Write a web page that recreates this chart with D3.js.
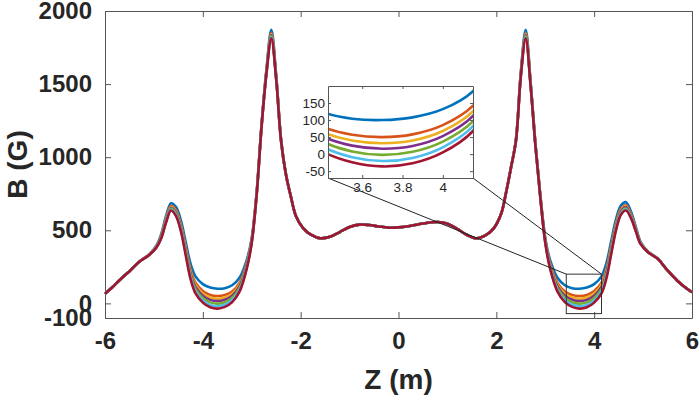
<!DOCTYPE html>
<html>
<head>
<meta charset="utf-8">
<script src="https://cdn.jsdelivr.net/npm/d3@7"></script>
<style>
  body { margin: 0; background: #fff; }
  svg { display: block; font-family: "Liberation Sans", Arial, Helvetica, sans-serif; }
  .main-axis text { font-size: 24px; font-weight: bold; fill: #262626; }
  .inset-axis text { font-size: 13.5px; fill: #262626; }
  .axis-label { font-size: 28px; font-weight: bold; fill: #262626; }
</style>
</head>
<body>
<div id="chart"></div>
<script>
const svgWidth = 700
const svgHeight = 396

// z positions (m) shared by every curve
const zVals = [
  -6, -5.85, -5.7, -5.5, -5.3, -5.1, -4.95, -4.85, -4.75, -4.65, -4.55, -4.45, -4.35, -4.25, -4.15, -4.0,
  -3.85, -3.7, -3.55, -3.4, -3.25, -3.1,
  -3.0, -2.9, -2.8, -2.7, -2.6, -2.5, -2.4, -2.3, -2.2, -2.1,
  -1.95, -1.8, -1.6, -1.4, -1.2, -1.0, -0.8, -0.6, -0.4, -0.2, 0, 0.2, 0.4, 0.6, 0.8, 1.0, 1.2, 1.4, 1.6, 1.8, 1.95,
  2.1, 2.2, 2.3, 2.4, 2.5, 2.6, 2.7, 2.8, 2.9, 3.0,
  3.1, 3.25, 3.4, 3.55, 3.7, 3.85, 4.0, 4.15,
  4.25, 4.35, 4.45, 4.55, 4.65, 4.75, 4.85, 4.95, 5.1, 5.3, 5.5, 5.7, 5.85, 6
]

// B (G) for each curve
const bBlue = [
  66, 110, 160, 220, 285, 335, 395, 475, 600, 685, 660, 570, 420, 270, 185, 132,
  108, 100, 104, 124, 175, 300,
  450, 760, 1220, 1600, 1872, 1560, 1120, 880, 730, 600,
  515, 472, 445, 455, 488, 522, 539, 536, 526, 518, 520, 528, 540, 552, 557, 545, 510, 468, 445, 470, 515,
  615, 760, 930, 1120, 1580, 1872, 1520, 1090, 740, 450,
  295, 175, 124, 104, 100, 108, 132, 185,
  275, 430, 580, 670, 692, 630, 525, 420, 355, 305, 225, 155, 112, 76
]
const bOrange = [
  66, 110, 160, 220, 285, 333, 389, 464, 583, 667, 637, 542, 387, 231, 142, 85,
  58, 50, 57, 81, 140, 278,
  437, 753, 1214, 1589, 1850, 1549, 1116, 880, 730, 600,
  515, 472, 445, 455, 488, 522, 539, 536, 526, 518, 520, 528, 540, 552, 557, 545, 510, 468, 445, 470, 515,
  615, 760, 930, 1116, 1569, 1850, 1509, 1084, 733, 437,
  273, 140, 81, 57, 50, 58, 85, 142,
  236, 397, 552, 647, 671, 613, 514, 414, 353, 305, 225, 155, 112, 76
]
const bYellow = [
  66, 110, 160, 220, 285, 333, 387, 460, 578, 660, 629, 532, 375, 217, 126, 68,
  40, 32, 40, 66, 127, 270,
  432, 750, 1212, 1585, 1842, 1545, 1114, 880, 730, 600,
  515, 472, 445, 455, 488, 522, 539, 536, 526, 518, 520, 528, 540, 552, 557, 545, 510, 468, 445, 470, 515,
  615, 760, 930, 1114, 1565, 1842, 1505, 1082, 730, 432,
  265, 127, 66, 40, 32, 40, 68, 126,
  222, 385, 542, 639, 663, 607, 510, 412, 352, 305, 225, 155, 112, 76
]
const bPurple = [
  66, 110, 160, 220, 285, 332, 386, 456, 572, 654, 622, 523, 364, 205, 112, 53,
  24, 16, 25, 53, 116, 263,
  428, 748, 1211, 1581, 1835, 1541, 1113, 880, 730, 600,
  515, 472, 445, 455, 488, 522, 539, 536, 526, 518, 520, 528, 540, 552, 557, 545, 510, 468, 445, 470, 515,
  615, 760, 930, 1113, 1561, 1835, 1501, 1081, 728, 428,
  258, 116, 53, 25, 16, 24, 53, 112,
  210, 374, 533, 632, 657, 602, 506, 411, 352, 305, 225, 155, 112, 76
]
const bGreen = [
  66, 110, 160, 220, 285, 331, 384, 453, 566, 648, 613, 514, 352, 191, 97, 37,
  7, -2, 8, 38, 104, 255,
  424, 745, 1209, 1578, 1828, 1538, 1111, 880, 730, 600,
  515, 472, 445, 455, 488, 522, 539, 536, 526, 518, 520, 528, 540, 552, 557, 545, 510, 468, 445, 470, 515,
  615, 760, 930, 1111, 1558, 1828, 1498, 1079, 725, 424,
  250, 104, 38, 8, -2, 7, 37, 97,
  196, 362, 524, 623, 649, 596, 502, 409, 351, 305, 225, 155, 112, 76
]
const bCyan = [
  66, 110, 160, 220, 285, 331, 382, 449, 560, 641, 605, 504, 341, 178, 82, 20,
  -11, -20, -9, 23, 91, 247,
  419, 742, 1207, 1574, 1820, 1534, 1109, 880, 730, 600,
  515, 472, 445, 455, 488, 522, 539, 536, 526, 518, 520, 528, 540, 552, 557, 545, 510, 468, 445, 470, 515,
  615, 760, 930, 1109, 1554, 1820, 1494, 1077, 722, 419,
  242, 91, 23, -9, -20, -11, 20, 82,
  183, 351, 514, 615, 642, 590, 499, 407, 351, 305, 225, 155, 112, 76
]
const bRed = [
  66, 110, 160, 220, 285, 330, 380, 445, 555, 635, 598, 495, 330, 165, 68, 5,
  -27, -36, -24, 9, 80, 240,
  415, 740, 1205, 1570, 1813, 1530, 1108, 880, 730, 600,
  515, 472, 445, 455, 488, 522, 539, 536, 526, 518, 520, 528, 540, 552, 557, 545, 510, 468, 445, 470, 515,
  615, 760, 930, 1108, 1550, 1813, 1490, 1075, 720, 415,
  235, 80, 9, -24, -36, -27, 5, 68,
  170, 340, 505, 608, 635, 585, 495, 405, 350, 305, 225, 155, 112, 76
]

const seriesValues = [bBlue, bOrange, bYellow, bPurple, bGreen, bCyan, bRed]
const seriesColors = ["#0072BD", "#D95319", "#EDB120", "#7E2F8E", "#77AC30", "#4DBEEE", "#A2142F"]

const xTicks = [-6, -4, -2, 0, 2, 4, 6]
const yTicks = [-100, 0, 500, 1000, 1500, 2000]
const insetXTicks = [3.6, 3.8, 4]
const insetYTicks = [-50, 0, 50, 100, 150]

// zoomed window shown in the inset
const zoomZ = [3.43, 4.15]
const zoomB = [-70, 200]

let margin = { top: 11, right: 8, bottom: 78, left: 105 }
let width = svgWidth - margin.left - margin.right
let height = svgHeight - margin.top - margin.bottom

const axisColor = "#555"
const plain = d => String(d)

let svg = d3
  .select("#chart")
  .append("svg")
  .attr("width", svgWidth)
  .attr("height", svgHeight)

let chartGroup = svg
  .append("g")
  .attr("transform", `translate(${margin.left}, ${margin.top})`)

let xScale = d3.scaleLinear().domain([-6, 6]).range([0, width])
let yScale = d3.scaleLinear().domain([-100, 2000]).range([height, 0])

function styleAxis(g) {
  g.select(".domain").attr("stroke", axisColor)
  g.selectAll(".tick line").attr("stroke", axisColor)
}

// main axes, MATLAB style: box on, ticks pointing in
chartGroup.append("g")
  .attr("class", "main-axis")
  .attr("transform", `translate(0, ${height})`)
  .call(d3.axisBottom(xScale).tickValues(xTicks).tickFormat(plain).tickSizeInner(-6).tickSizeOuter(0).tickPadding(14))
  .call(styleAxis)

chartGroup.append("g")
  .attr("class", "main-axis")
  .call(d3.axisLeft(yScale).tickValues(yTicks).tickFormat(plain).tickSizeInner(-6).tickSizeOuter(0).tickPadding(13))
  .call(styleAxis)

chartGroup.append("g")
  .call(d3.axisTop(xScale).tickValues(xTicks).tickSizeInner(-6).tickSizeOuter(0).tickFormat(""))
  .call(styleAxis)

chartGroup.append("g")
  .attr("transform", `translate(${width}, 0)`)
  .call(d3.axisRight(yScale).tickValues(yTicks).tickSizeInner(-6).tickSizeOuter(0).tickFormat(""))
  .call(styleAxis)

let line = d3.line()
  .x((d, i) => xScale(zVals[i]))
  .y(d => yScale(d))
  .curve(d3.curveCatmullRom.alpha(0.5))

chartGroup.append("g")
  .selectAll("path")
  .data(seriesValues)
  .enter()
  .append("path")
  .attr("d", d => line(d))
  .attr("fill", "none")
  .attr("stroke", (d, i) => seriesColors[i])
  .attr("stroke-width", 2.6)
  .attr("stroke-linejoin", "round")

// zoom window in the main plot
let zx0 = xScale(zoomZ[0]), zx1 = xScale(zoomZ[1])
let zy0 = yScale(zoomB[1]), zy1 = yScale(zoomB[0])

chartGroup.append("rect")
  .attr("x", zx0)
  .attr("y", zy0)
  .attr("width", zx1 - zx0)
  .attr("height", zy1 - zy0)
  .attr("fill", "none")
  .attr("stroke", "#333")
  .attr("stroke-width", 1)

// inset axes (page coordinates)
const inset = { left: 328, top: 86, right: 473, bottom: 178 }

let ixScale = d3.scaleLinear().domain(zoomZ).range([inset.left, inset.right])
let iyScale = d3.scaleLinear().domain(zoomB).range([inset.bottom, inset.top])

// connector lines from inset corners to the zoom window
svg.append("line")
  .attr("x1", inset.left).attr("y1", inset.bottom)
  .attr("x2", margin.left + zx0).attr("y2", margin.top + zy0)
  .attr("stroke", "#222").attr("stroke-width", 1)

svg.append("line")
  .attr("x1", inset.right).attr("y1", inset.bottom)
  .attr("x2", margin.left + zx1).attr("y2", margin.top + zy0)
  .attr("stroke", "#222").attr("stroke-width", 1)

let insetGroup = svg.append("g")

insetGroup.append("rect")
  .attr("x", inset.left)
  .attr("y", inset.top)
  .attr("width", inset.right - inset.left)
  .attr("height", inset.bottom - inset.top)
  .attr("fill", "#fff")

svg.append("clipPath")
  .attr("id", "inset-clip")
  .append("rect")
  .attr("x", inset.left)
  .attr("y", inset.top)
  .attr("width", inset.right - inset.left)
  .attr("height", inset.bottom - inset.top)

let insetLine = d3.line()
  .x((d, i) => ixScale(zVals[i]))
  .y(d => iyScale(d))
  .curve(d3.curveCatmullRom.alpha(0.5))

insetGroup.append("g")
  .attr("clip-path", "url(#inset-clip)")
  .selectAll("path")
  .data(seriesValues)
  .enter()
  .append("path")
  .attr("d", d => insetLine(d))
  .attr("fill", "none")
  .attr("stroke", (d, i) => seriesColors[i])
  .attr("stroke-width", 2.6)

insetGroup.append("g")
  .attr("class", "inset-axis")
  .attr("transform", `translate(0, ${inset.bottom})`)
  .call(d3.axisBottom(ixScale).tickValues(insetXTicks).tickFormat(plain).tickSizeInner(-3).tickSizeOuter(0).tickPadding(4))
  .call(styleAxis)

insetGroup.append("g")
  .attr("class", "inset-axis")
  .attr("transform", `translate(${inset.left}, 0)`)
  .call(d3.axisLeft(iyScale).tickValues(insetYTicks).tickFormat(plain).tickSizeInner(-3).tickSizeOuter(0).tickPadding(3))
  .call(styleAxis)

insetGroup.append("g")
  .attr("transform", `translate(0, ${inset.top})`)
  .call(d3.axisTop(ixScale).tickValues(insetXTicks).tickSizeInner(-3).tickSizeOuter(0).tickFormat(""))
  .call(styleAxis)

insetGroup.append("g")
  .attr("transform", `translate(${inset.right}, 0)`)
  .call(d3.axisRight(iyScale).tickValues(insetYTicks).tickSizeInner(-3).tickSizeOuter(0).tickFormat(""))
  .call(styleAxis)

// axis titles
svg.append("text")
  .attr("class", "axis-label")
  .attr("x", margin.left + xScale(0))
  .attr("y", 389)
  .attr("text-anchor", "middle")
  .text("Z (m)")

svg.append("text")
  .attr("class", "axis-label")
  .attr("transform", `translate(27, ${margin.top + height / 2}) rotate(-90)`)
  .attr("text-anchor", "middle")
  .text("B (G)")
</script>
</body>
</html>
